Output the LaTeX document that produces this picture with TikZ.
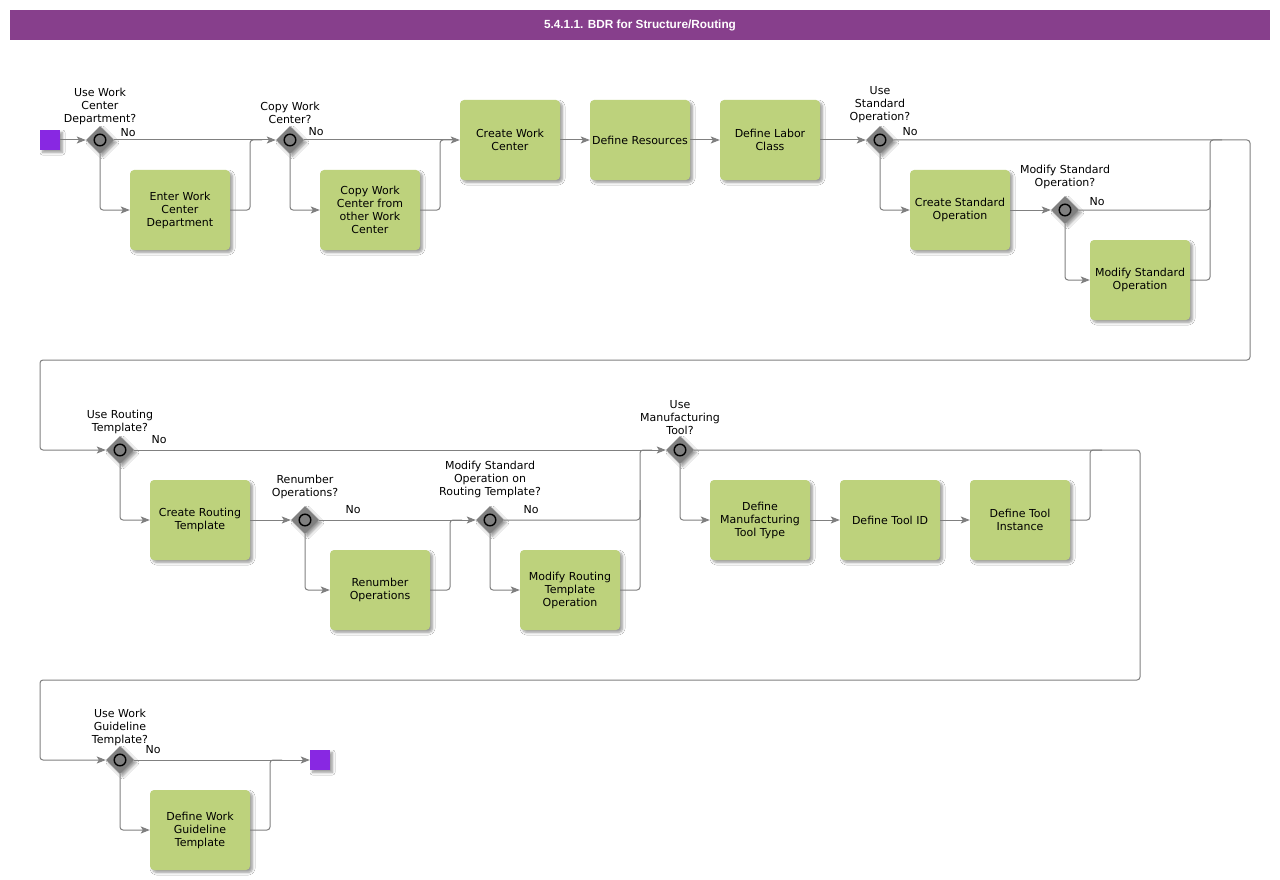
\documentclass[tikz,border=0pt]{standalone}
\usepackage{fontspec}
\setmainfont{DejaVu Sans}
\newfontfamily\titlefont{Liberation Sans}
\usetikzlibrary{shapes.geometric,arrows.meta,shadows.blur}
\definecolor{taskgreen}{RGB}{189,210,124}
\definecolor{gwgray}{RGB}{128,128,128}
\definecolor{linegray}{RGB}{128,128,128}
\definecolor{evpurple}{RGB}{136,40,226}
\definecolor{titlepurple}{RGB}{135,63,140}
\tikzset{
  softshadow/.style={blur shadow={shadow xshift=2.5pt, shadow yshift=-2.5pt, shadow blur radius=2.5pt, shadow blur steps=6, shadow opacity=40}},
  task/.style={rectangle, rounded corners=4pt, fill=taskgreen, minimum width=100pt, minimum height=80pt,
    align=center, inner sep=2pt, font=\fontsize{11}{13}\selectfont, softshadow},
  gw/.style={diamond, fill=gwgray, minimum width=28pt, minimum height=28pt, inner sep=0pt, softshadow},
  gwring/.style={draw=black, line width=1.4pt, fill=gwgray},
  evt/.style={rectangle, fill=evpurple, minimum width=20pt, minimum height=20pt, inner sep=0pt, softshadow},
  gwlabel/.style={align=center, inner sep=0pt, anchor=south, font=\fontsize{11}{13}\selectfont},
  nolabel/.style={inner sep=0pt, font=\fontsize{11}{13}\selectfont},
  flow/.style={draw=linegray, line width=1pt, rounded corners=3pt, -{Stealth[length=9pt,width=7pt,inset=2pt]}},
  plain/.style={draw=linegray, line width=1pt, rounded corners=3pt},
}
\begin{document}
\begin{tikzpicture}[x=1pt,y=-1pt]
\useasboundingbox (0,0) rectangle (1280,880);
\fill[white] (0,0) rectangle (1280,880);
% title
\node[fill=titlepurple, minimum width=1260pt, minimum height=30pt, inner sep=0pt, text=white,
  font=\titlefont\bfseries\fontsize{11.8}{13}\selectfont] (title) at (640,25) {5.4.1.1. BDR for Structure/Routing};

% ---------- row 1 ----------
\node[evt] (start) at (50,140) {};
\node[gw] (g1) at (100,140) {};
\node[task] (t1) at (180,210) {Enter Work\\Center\\Department};
\node[gw] (g2) at (290,140) {};
\node[task] (t2) at (370,210) {Copy Work\\Center from\\other Work\\Center};
\node[task] (t3) at (510,140) {Create Work\\Center};
\node[task] (t4) at (640,140) {Define Resources};
\node[task] (t5) at (770,140) {Define Labor\\Class};
\node[gw] (g3) at (880,140) {};
\node[task] (t6) at (960,210) {Create Standard\\Operation};
\node[gw] (g4) at (1065,210) {};
\node[task] (t7) at (1140,280) {Modify Standard\\Operation};

% ---------- row 2 ----------
\node[gw] (g5) at (120,450) {};
\node[task] (t8) at (200,520) {Create Routing\\Template};
\node[gw] (g6) at (305,520) {};
\node[task] (t9) at (380,590) {Renumber\\Operations};
\node[gw] (g7) at (490,520) {};
\node[task] (t10) at (570,590) {Modify Routing\\Template\\Operation};
\node[gw] (g8) at (680,450) {};
\node[task] (t11) at (760,520) {Define\\Manufacturing\\Tool Type};
\node[task] (t12) at (890,520) {Define Tool ID};
\node[task] (t13) at (1020,520) {Define Tool\\Instance};

% ---------- row 3 ----------
\node[gw] (g9) at (120,760) {};
\node[task] (t14) at (200,830) {Define Work\\Guideline\\Template};
\node[evt] (end) at (320,760) {};

% gateway rings
\foreach \g in {g1,g2,g3,g4,g5,g6,g7,g8,g9} {\draw[gwring] (\g.center) circle (5.8pt);}

% gateway labels
\node[gwlabel] (l1) at (100,125) {Use Work\\Center\\Department?};
\node[gwlabel] (l2) at (290,124) {Copy Work\\Center?};
\node[gwlabel] (l3) at (880,123) {Use\\Standard\\Operation?};
\node[gwlabel] (l4) at (1065,189) {Modify Standard\\Operation?};
\node[gwlabel] (l5) at (120,434) {Use Routing\\Template?};
\node[gwlabel] (l6) at (305,499) {Renumber\\Operations?};
\node[gwlabel] (l7) at (490,498) {Modify Standard\\Operation on\\Routing Template?};
\node[gwlabel] (l8) at (680,435) {Use\\Manufacturing\\Tool?};
\node[gwlabel] (l9) at (120,746) {Use Work\\Guideline\\Template?};

% "No" labels
\node[nolabel] (n1) at (128,133) {No};
\node[nolabel] (n2) at (316,132) {No};
\node[nolabel] (n3) at (910,132) {No};
\node[nolabel] (n4) at (1097,202) {No};
\node[nolabel] (n5) at (159,440) {No};
\node[nolabel] (n6) at (353,510) {No};
\node[nolabel] (n7) at (531,510) {No};
\node[nolabel] (n9) at (153,750) {No};

% ---------- connectors row 1 ----------
\draw[flow] (start.east) -- (g1.west);
\draw[flow] (g1.east) -- (g2.west);
\draw[flow] (g1.south) |- (t1.west);
\draw[plain] (t1.east) -- (250,210) -- (250,140) -- (262,140);
\draw[flow] (g2.east) -- (t3.west);
\draw[flow] (g2.south) |- (t2.west);
\draw[plain] (t2.east) -- (440,210) -- (440,140) -- (452,140);
\draw[flow] (t3.east) -- (t4.west);
\draw[flow] (t4.east) -- (t5.west);
\draw[flow] (t5.east) -- (g3.west);
\draw[flow] (g3.south) |- (t6.west);
\draw[flow] (t6.east) -- (g4.west);
\draw[flow] (g4.south) |- (t7.west);
\draw[plain] (t7.east) -- (1210,280) -- (1210,200);
\draw[plain] (g4.east) -- (1210,210) -- (1210,140) -- (1222,140);
\draw[flow] (g3.east) -- (1250,140) -- (1250,360) -- (40,360) -- (40,450) -- (g5.west);

% ---------- connectors row 2 ----------
\draw[flow] (g5.south) |- (t8.west);
\draw[flow] (t8.east) -- (g6.west);
\draw[flow] (g6.south) |- (t9.west);
\draw[flow] (g6.east) -- (g7.west);
\draw[plain] (t9.east) -- (450,590) -- (450,520) -- (462,520);
\draw[flow] (g7.south) |- (t10.west);
\draw[plain] (g7.east) -- (640,520) -- (640,500);
\draw[plain] (t10.east) -- (640,590) -- (640,450) -- (652,450);
\draw[flow] (g5.east) -- (g8.west);
\draw[flow] (g8.south) |- (t11.west);
\draw[flow] (t11.east) -- (t12.west);
\draw[flow] (t12.east) -- (t13.west);
\draw[plain] (t13.east) -- (1090,520) -- (1090,450) -- (1102,450);
\draw[flow] (g8.east) -- (1140,450) -- (1140,680) -- (40,680) -- (40,760) -- (g9.west);

% ---------- connectors row 3 ----------
\draw[flow] (g9.south) |- (t14.west);
\draw[plain] (t14.east) -- (270,830) -- (270,760) -- (282,760);
\draw[flow] (g9.east) -- (end.west);
\end{tikzpicture}
\end{document}
